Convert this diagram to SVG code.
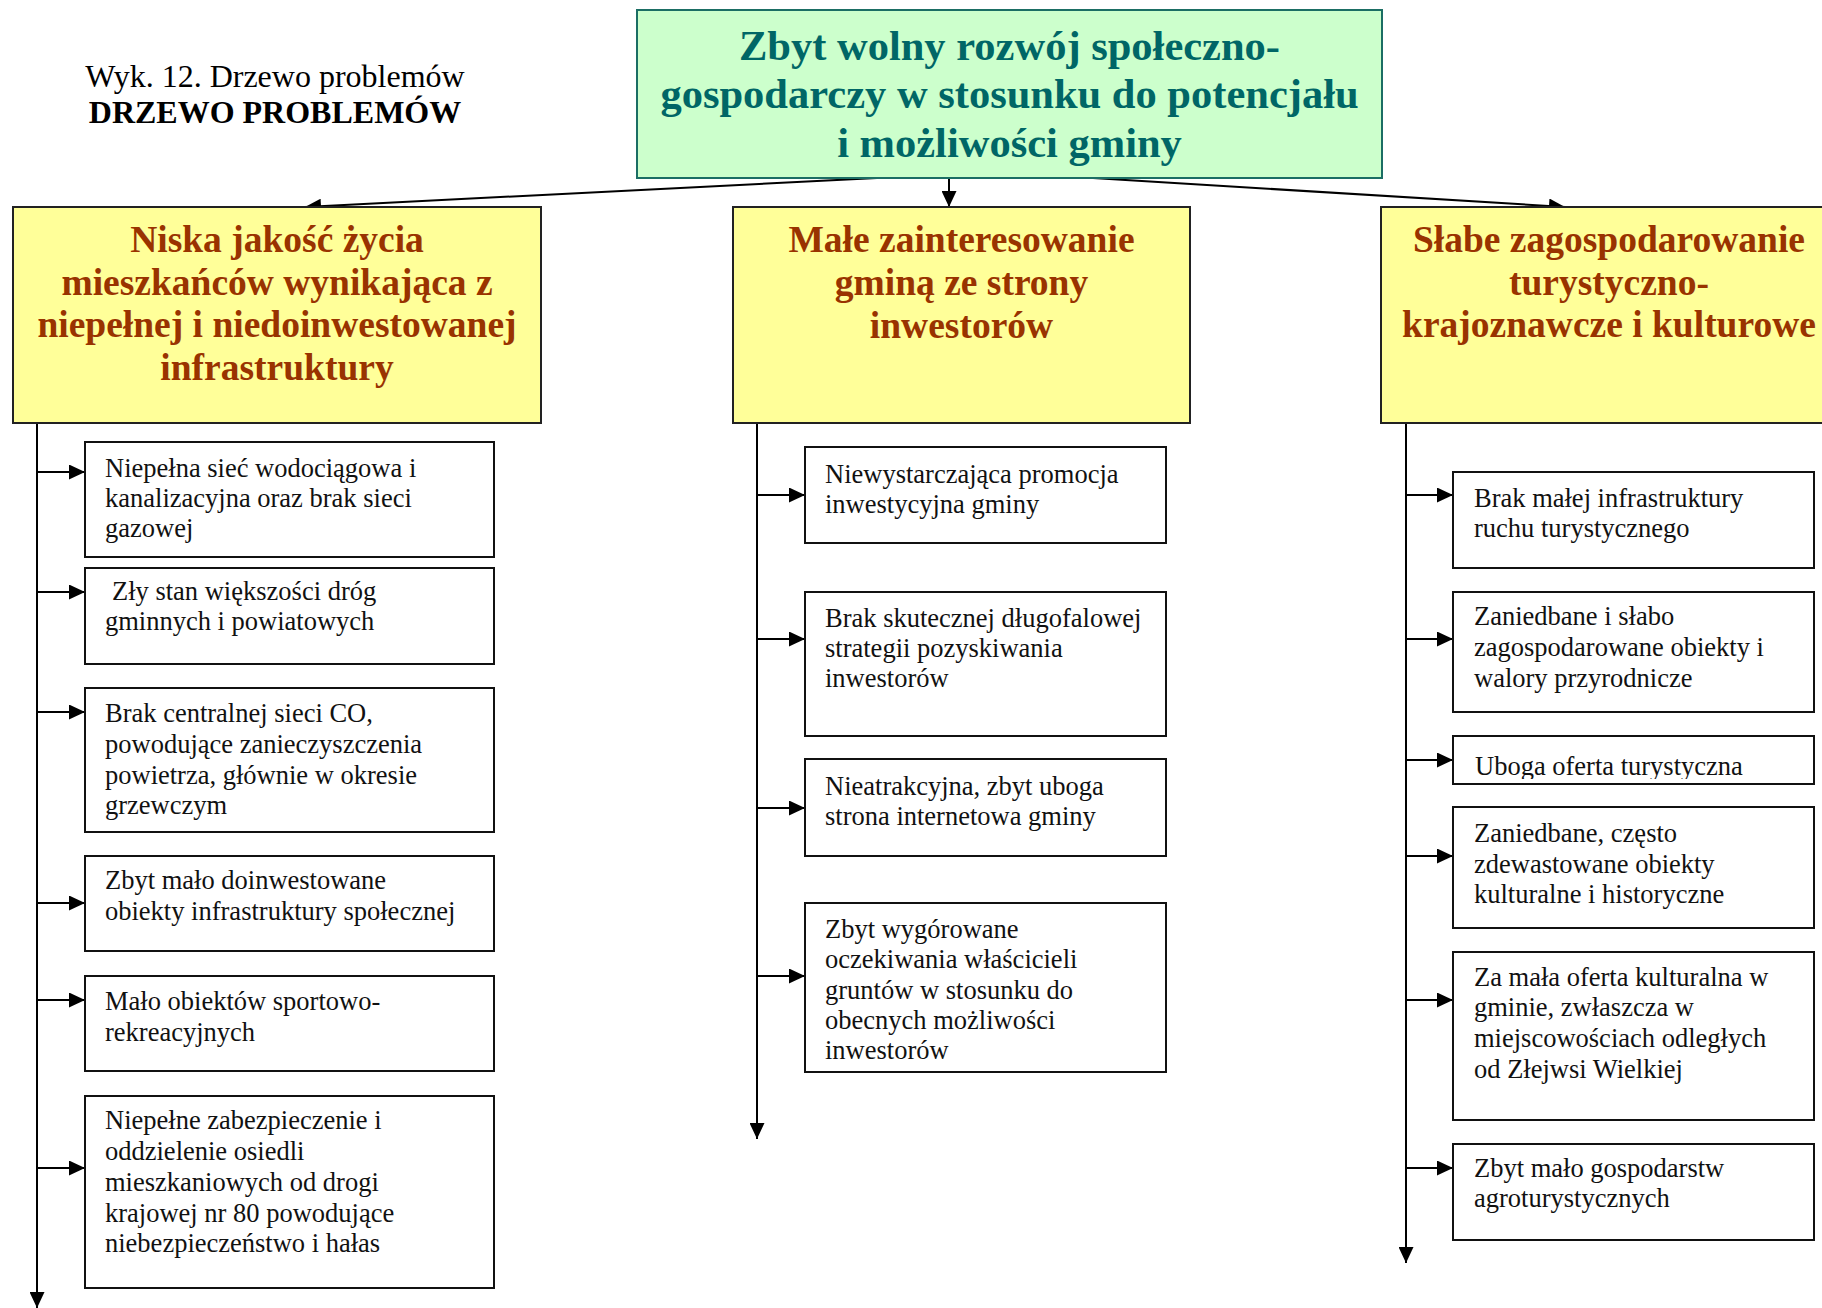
<svg xmlns="http://www.w3.org/2000/svg" width="1822" height="1308" viewBox="0 0 1822 1308">
<style>
.title{font-family:"Liberation Serif","Times New Roman",serif;font-size:32px;fill:#000}
.root{fill:#CCFFCC;stroke:#1B6E64;stroke-width:2}
.roott{font-family:"Liberation Serif","Times New Roman",serif;font-size:42.5px;font-weight:bold;fill:#006666;text-anchor:middle}
.cat{fill:#FFFF99;stroke:#222;stroke-width:2}
.catt{font-family:"Liberation Serif","Times New Roman",serif;font-size:37.5px;font-weight:bold;fill:#993300;text-anchor:middle}
.box{fill:#fff;stroke:#111;stroke-width:2}
.bt{font-family:"Liberation Serif","Times New Roman",serif;font-size:26.5px;fill:#111}
.con{stroke:#000;stroke-width:2;fill:none;marker-end:url(#ah)}
</style>
<defs>
<marker id="ah" markerUnits="userSpaceOnUse" markerWidth="16" markerHeight="15" refX="16" refY="7.5" orient="auto">
<path d="M0,0 L16,7.5 L0,15 z" fill="#000"/>
</marker>
<clipPath id="clipUboga"><rect x="1453" y="736" width="361" height="43"/></clipPath>
</defs>
<rect width="1822" height="1308" fill="#fff"/>

<g id="title">
<text class="title" x="275" y="87" text-anchor="middle">Wyk. 12. Drzewo problemów</text>
<text class="title" x="275" y="123" text-anchor="middle" font-weight="bold">DRZEWO PROBLEMÓW</text>
</g>

<g id="connectors">
<line class="con" x1="877" y1="178" x2="305" y2="207"/>
<line class="con" x1="949" y1="178" x2="949" y2="207"/>
<line class="con" x1="1093" y1="178" x2="1565" y2="207"/>
<line class="con" x1="37" y1="423" x2="37" y2="1308"/>
<line class="con" x1="37" y1="472" x2="85" y2="472"/>
<line class="con" x1="37" y1="592" x2="85" y2="592"/>
<line class="con" x1="37" y1="712" x2="85" y2="712"/>
<line class="con" x1="37" y1="903" x2="85" y2="903"/>
<line class="con" x1="37" y1="1000" x2="85" y2="1000"/>
<line class="con" x1="37" y1="1168" x2="85" y2="1168"/>
<line class="con" x1="757" y1="423" x2="757" y2="1139"/>
<line class="con" x1="757" y1="495" x2="805" y2="495"/>
<line class="con" x1="757" y1="639" x2="805" y2="639"/>
<line class="con" x1="757" y1="808" x2="805" y2="808"/>
<line class="con" x1="757" y1="976" x2="805" y2="976"/>
<line class="con" x1="1406" y1="423" x2="1406" y2="1263"/>
<line class="con" x1="1406" y1="495" x2="1453" y2="495"/>
<line class="con" x1="1406" y1="639" x2="1453" y2="639"/>
<line class="con" x1="1406" y1="760" x2="1453" y2="760"/>
<line class="con" x1="1406" y1="856" x2="1453" y2="856"/>
<line class="con" x1="1406" y1="1000" x2="1453" y2="1000"/>
<line class="con" x1="1406" y1="1168" x2="1453" y2="1168"/>
</g>

<g id="root">
<rect class="root" x="637" y="10" width="745" height="168"/>
<text class="roott" x="1009.5" y="60">Zbyt wolny rozwój społeczno-</text>
<text class="roott" x="1009.5" y="108">gospodarczy w stosunku do potencjału</text>
<text class="roott" x="1009.5" y="157">i możliwości gminy</text>
</g>

<g id="cat1">
<rect class="cat" x="13" y="207" width="528" height="216"/>
<text class="catt" x="277" y="252">Niska jakość życia</text>
<text class="catt" x="277" y="295">mieszkańców wynikająca z</text>
<text class="catt" x="277" y="337">niepełnej i niedoinwestowanej</text>
<text class="catt" x="277" y="380">infrastruktury</text>
</g>

<g id="cat2">
<rect class="cat" x="733" y="207" width="457" height="216"/>
<text class="catt" x="961.5" y="252">Małe zainteresowanie</text>
<text class="catt" x="961.5" y="295">gminą ze strony</text>
<text class="catt" x="961.5" y="338">inwestorów</text>
</g>

<g id="cat3">
<rect class="cat" x="1381" y="207" width="460" height="216"/>
<text class="catt" x="1609" y="252">Słabe zagospodarowanie</text>
<text class="catt" x="1609" y="295">turystyczno-</text>
<text class="catt" x="1609" y="337">krajoznawcze i kulturowe</text>
</g>

<g id="l1">
<rect class="box" x="85" y="442" width="409" height="115"/>
<text class="bt" x="105" y="477">Niepełna sieć wodociągowa i</text>
<text class="bt" x="105" y="507">kanalizacyjna oraz brak sieci</text>
<text class="bt" x="105" y="537">gazowej</text>
</g>
<g id="l2">
<rect class="box" x="85" y="568" width="409" height="96"/>
<text class="bt" x="112" y="600">Zły stan większości dróg</text>
<text class="bt" x="105" y="630">gminnych i powiatowych</text>
</g>
<g id="l3">
<rect class="box" x="85" y="688" width="409" height="144"/>
<text class="bt" x="105" y="722">Brak centralnej sieci CO,</text>
<text class="bt" x="105" y="753">powodujące zanieczyszczenia</text>
<text class="bt" x="105" y="784">powietrza, głównie w okresie</text>
<text class="bt" x="105" y="814">grzewczym</text>
</g>
<g id="l4">
<rect class="box" x="85" y="856" width="409" height="95"/>
<text class="bt" x="105" y="889">Zbyt mało doinwestowane</text>
<text class="bt" x="105" y="920">obiekty infrastruktury społecznej</text>
</g>
<g id="l5">
<rect class="box" x="85" y="976" width="409" height="95"/>
<text class="bt" x="105" y="1010">Mało obiektów sportowo-</text>
<text class="bt" x="105" y="1041">rekreacyjnych</text>
</g>
<g id="l6">
<rect class="box" x="85" y="1096" width="409" height="192"/>
<text class="bt" x="105" y="1129">Niepełne zabezpieczenie i</text>
<text class="bt" x="105" y="1160">oddzielenie osiedli</text>
<text class="bt" x="105" y="1191">mieszkaniowych od drogi</text>
<text class="bt" x="105" y="1222">krajowej nr 80 powodujące</text>
<text class="bt" x="105" y="1252">niebezpieczeństwo i hałas</text>
</g>

<g id="m1">
<rect class="box" x="805" y="447" width="361" height="96"/>
<text class="bt" x="825" y="483">Niewystarczająca promocja</text>
<text class="bt" x="825" y="513">inwestycyjna gminy</text>
</g>
<g id="m2">
<rect class="box" x="805" y="592" width="361" height="144"/>
<text class="bt" x="825" y="627">Brak skutecznej długofalowej</text>
<text class="bt" x="825" y="657">strategii pozyskiwania</text>
<text class="bt" x="825" y="687">inwestorów</text>
</g>
<g id="m3">
<rect class="box" x="805" y="759" width="361" height="97"/>
<text class="bt" x="825" y="795">Nieatrakcyjna, zbyt uboga</text>
<text class="bt" x="825" y="825">strona internetowa gminy</text>
</g>
<g id="m4">
<rect class="box" x="805" y="903" width="361" height="169"/>
<text class="bt" x="825" y="938">Zbyt wygórowane</text>
<text class="bt" x="825" y="968">oczekiwania właścicieli</text>
<text class="bt" x="825" y="999">gruntów w stosunku do</text>
<text class="bt" x="825" y="1029">obecnych możliwości</text>
<text class="bt" x="825" y="1059">inwestorów</text>
</g>

<g id="r1">
<rect class="box" x="1453" y="472" width="361" height="96"/>
<text class="bt" x="1474" y="507">Brak małej infrastruktury</text>
<text class="bt" x="1474" y="537">ruchu turystycznego</text>
</g>
<g id="r2">
<rect class="box" x="1453" y="592" width="361" height="120"/>
<text class="bt" x="1474" y="625">Zaniedbane i słabo</text>
<text class="bt" x="1474" y="656">zagospodarowane obiekty i</text>
<text class="bt" x="1474" y="687">walory przyrodnicze</text>
</g>
<g id="r3">
<rect class="box" x="1453" y="736" width="361" height="48"/>
<text class="bt" x="1475" y="775" clip-path="url(#clipUboga)">Uboga oferta turystyczna</text>
<rect x="1453" y="736" width="361" height="48" fill="none" stroke="#111" stroke-width="2"/>
</g>
<g id="r4">
<rect class="box" x="1453" y="807" width="361" height="121"/>
<text class="bt" x="1474" y="842">Zaniedbane, często</text>
<text class="bt" x="1474" y="873">zdewastowane obiekty</text>
<text class="bt" x="1474" y="903">kulturalne i historyczne</text>
</g>
<g id="r5">
<rect class="box" x="1453" y="952" width="361" height="168"/>
<text class="bt" x="1474" y="986">Za mała oferta kulturalna w</text>
<text class="bt" x="1474" y="1016">gminie, zwłaszcza w</text>
<text class="bt" x="1474" y="1047">miejscowościach odległych</text>
<text class="bt" x="1474" y="1078">od Złejwsi Wielkiej</text>
</g>
<g id="r6">
<rect class="box" x="1453" y="1144" width="361" height="96"/>
<text class="bt" x="1474" y="1177">Zbyt mało gospodarstw</text>
<text class="bt" x="1474" y="1207">agroturystycznych</text>
</g>
</svg>
